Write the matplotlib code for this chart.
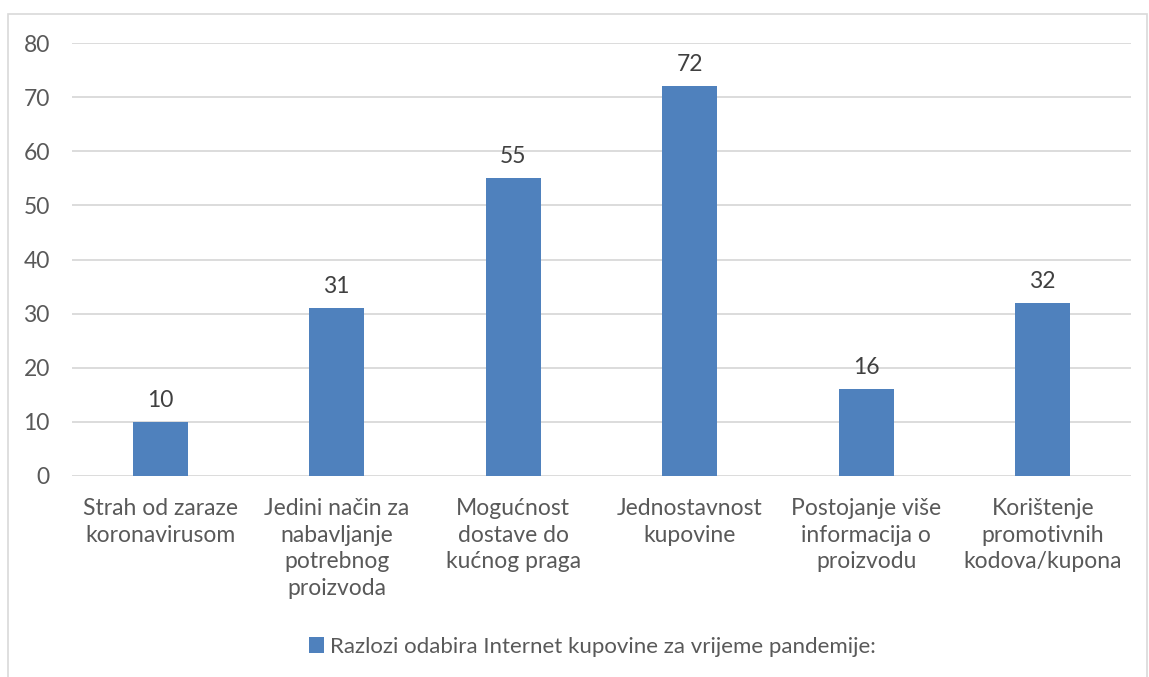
import matplotlib.pyplot as plt
from matplotlib.patches import Rectangle

categories = ["Strah od zaraze\nkoronavirusom",
              "Jedini način za\nnabavljanje\npotrebnog\nproizvoda",
              "Mogućnost\ndostave do\nkućnog praga",
              "Jednostavnost\nkupovine",
              "Postojanje više\ninformacija o\nproizvodu",
              "Korištenje\npromotivnih\nkodova/kupona"]
values = [10, 31, 55, 72, 16, 32]
series_name = "Razlozi odabira Internet kupovine za vrijeme pandemije:"

plt.rcParams['font.family'] = ['Lato', 'DejaVu Sans']
txt = '#595959'
blue = '#4F81BD'
fs = 16.5

fig = plt.figure(figsize=(11.49, 6.77), dpi=100)
fig.patches.append(Rectangle((8/1149, -0.05), 1139/1149, 1.05 - 14/677,
                             transform=fig.transFigure, fill=False,
                             edgecolor='#D9D9D9', linewidth=1.2))
ax = fig.add_axes([72/1149, 1-476/677, (1131-72)/1149, (476-43)/677])

x = range(len(values))
bars = ax.bar(x, values, width=0.31, color=blue, zorder=3, label=series_name)
for b, v in zip(bars, values):
    ax.annotate(str(v), (b.get_x() + b.get_width()/2, v), xytext=(0, 8),
                textcoords='offset points', ha='center', va='bottom',
                fontsize=fs, color='#404040')

ax.set_xlim(-0.5, len(values) - 0.5)
ax.set_ylim(0, 80)
ax.set_yticks(range(0, 81, 10))
ax.set_xticks(list(x))
ax.set_xticklabels(categories, linespacing=1.33)
ax.tick_params(axis='both', length=0, labelsize=fs, labelcolor=txt)
ax.tick_params(axis='y', pad=16)
ax.tick_params(axis='x', pad=16)
ax.grid(axis='y', color='#D9D9D9', linewidth=1.3, zorder=0)
for s in ax.spines.values():
    s.set_visible(False)

fig.legend(handles=[bars], labels=[series_name], loc='center',
           bbox_to_anchor=(592/1149, 1-647/677), frameon=False,
           fontsize=16, labelcolor=txt, handlelength=0.7, handleheight=0.7,
           handletextpad=0.25)

fig.savefig('out.png', dpi=100)
